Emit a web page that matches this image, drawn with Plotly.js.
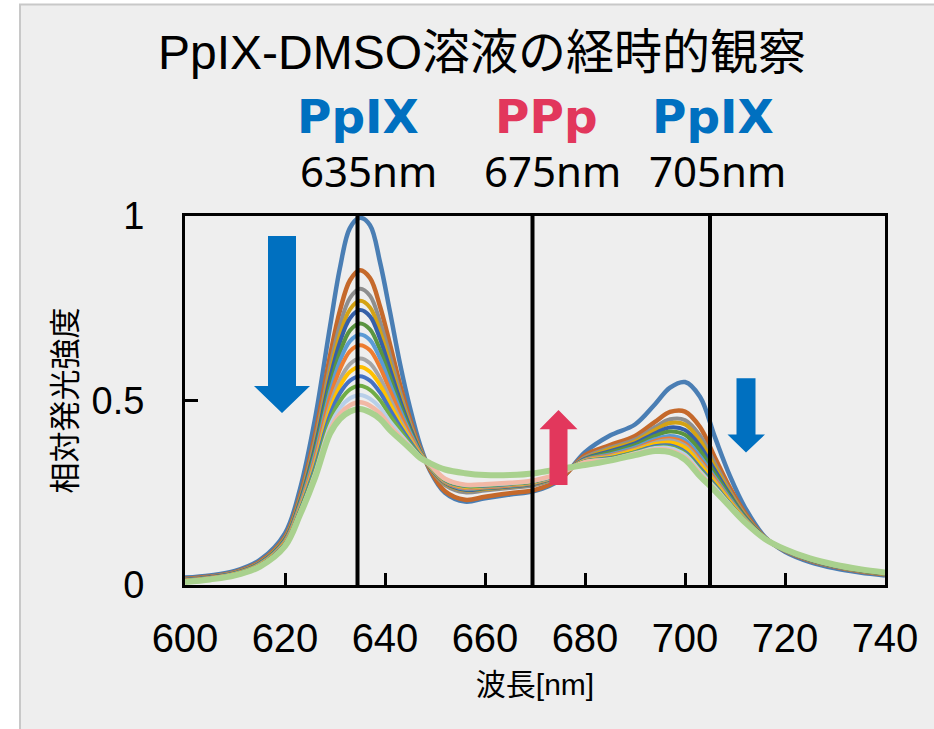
<!DOCTYPE html>
<html>
<head>
<meta charset="utf-8">
<script src="https://cdn.plot.ly/plotly-3.0.1.min.js"></script>
<style>html,body{margin:0;padding:0;background:#fff;}#chart{width:934px;height:729px;}</style>
</head>
<body>
<div id="chart"></div>
<script>
// wavelength (nm)
const wavelength = [600,605,610,615,620,623,626,629,631,633,635,637,639,641,643,645,647,649,652,656,660,665,670,675,680,685,690,694,697,700,703,706,709,712,716,720,725,730,735,740];

// relative emission intensity, series in time order
const s01 = [0.020,0.026,0.038,0.068,0.140,0.260,0.450,0.700,0.860,0.968,0.995,0.975,0.875,0.740,0.600,0.480,0.380,0.310,0.250,0.226,0.235,0.245,0.255,0.285,0.360,0.405,0.435,0.490,0.535,0.550,0.510,0.400,0.295,0.210,0.130,0.090,0.062,0.045,0.034,0.026];
const s02 = [0.017,0.023,0.035,0.063,0.130,0.241,0.406,0.621,0.744,0.826,0.853,0.832,0.755,0.652,0.544,0.450,0.370,0.313,0.254,0.231,0.239,0.249,0.258,0.287,0.352,0.379,0.404,0.442,0.469,0.470,0.428,0.345,0.263,0.195,0.128,0.093,0.066,0.049,0.037,0.029];
const s03 = [0.016,0.022,0.034,0.061,0.127,0.234,0.391,0.592,0.705,0.778,0.803,0.784,0.714,0.621,0.524,0.439,0.367,0.317,0.271,0.251,0.256,0.263,0.271,0.295,0.346,0.372,0.394,0.428,0.449,0.447,0.405,0.329,0.254,0.190,0.128,0.093,0.067,0.050,0.038,0.030];
const s04 = [0.015,0.021,0.033,0.060,0.125,0.230,0.381,0.574,0.679,0.747,0.770,0.752,0.688,0.601,0.511,0.432,0.365,0.318,0.275,0.257,0.260,0.266,0.274,0.297,0.343,0.368,0.389,0.420,0.439,0.435,0.392,0.320,0.249,0.188,0.127,0.094,0.068,0.051,0.039,0.030];
const s05 = [0.014,0.021,0.032,0.059,0.123,0.226,0.373,0.560,0.659,0.723,0.745,0.728,0.667,0.585,0.501,0.427,0.363,0.319,0.277,0.258,0.262,0.267,0.275,0.298,0.342,0.363,0.384,0.411,0.427,0.420,0.377,0.310,0.244,0.185,0.127,0.094,0.068,0.051,0.040,0.031];
const s06 = [0.013,0.020,0.031,0.058,0.121,0.221,0.362,0.540,0.631,0.690,0.709,0.693,0.638,0.563,0.487,0.419,0.361,0.320,0.278,0.260,0.263,0.268,0.276,0.298,0.340,0.359,0.379,0.404,0.416,0.407,0.364,0.301,0.239,0.183,0.127,0.095,0.069,0.052,0.040,0.031];
const s07 = [0.013,0.019,0.031,0.057,0.119,0.217,0.352,0.523,0.608,0.661,0.679,0.664,0.614,0.545,0.475,0.413,0.359,0.321,0.279,0.261,0.264,0.269,0.277,0.299,0.339,0.354,0.373,0.395,0.404,0.393,0.349,0.291,0.233,0.180,0.126,0.095,0.070,0.053,0.041,0.032];
const s08 = [0.012,0.019,0.030,0.056,0.117,0.213,0.343,0.507,0.585,0.634,0.650,0.636,0.590,0.527,0.464,0.407,0.357,0.322,0.280,0.263,0.265,0.270,0.278,0.299,0.338,0.351,0.369,0.390,0.397,0.384,0.340,0.286,0.229,0.178,0.126,0.096,0.070,0.053,0.041,0.032];
const s09 = [0.011,0.018,0.029,0.055,0.114,0.209,0.332,0.487,0.557,0.599,0.614,0.601,0.561,0.505,0.449,0.399,0.354,0.322,0.282,0.265,0.267,0.272,0.279,0.300,0.337,0.349,0.367,0.386,0.392,0.378,0.334,0.281,0.227,0.177,0.126,0.096,0.070,0.053,0.041,0.033];
const s10 = [0.011,0.017,0.029,0.054,0.113,0.205,0.325,0.474,0.539,0.578,0.591,0.578,0.542,0.490,0.440,0.394,0.353,0.323,0.283,0.266,0.268,0.273,0.280,0.301,0.336,0.347,0.365,0.382,0.386,0.372,0.327,0.277,0.225,0.176,0.126,0.096,0.071,0.054,0.042,0.033];
const s11 = [0.010,0.017,0.028,0.053,0.111,0.202,0.318,0.460,0.520,0.554,0.566,0.554,0.522,0.475,0.430,0.389,0.351,0.324,0.284,0.268,0.269,0.274,0.281,0.301,0.335,0.344,0.360,0.376,0.378,0.361,0.317,0.270,0.220,0.174,0.126,0.096,0.071,0.054,0.042,0.033];
const s12 = [0.010,0.016,0.028,0.052,0.109,0.199,0.310,0.445,0.499,0.530,0.540,0.529,0.501,0.459,0.420,0.383,0.349,0.324,0.285,0.269,0.270,0.275,0.282,0.302,0.334,0.342,0.359,0.373,0.374,0.357,0.312,0.267,0.219,0.173,0.125,0.096,0.071,0.054,0.042,0.033];
const s13 = [0.009,0.016,0.027,0.051,0.108,0.195,0.302,0.431,0.480,0.506,0.515,0.505,0.481,0.443,0.410,0.378,0.348,0.325,0.287,0.271,0.272,0.276,0.283,0.302,0.333,0.341,0.357,0.371,0.371,0.353,0.308,0.264,0.217,0.172,0.125,0.097,0.071,0.054,0.042,0.034];
const s14 = [0.008,0.015,0.026,0.051,0.106,0.193,0.296,0.420,0.464,0.487,0.495,0.486,0.465,0.431,0.402,0.374,0.346,0.326,0.288,0.272,0.273,0.277,0.284,0.303,0.333,0.339,0.355,0.367,0.365,0.346,0.302,0.259,0.215,0.171,0.125,0.097,0.072,0.055,0.043,0.034];
const s15 = [0.008,0.015,0.026,0.050,0.105,0.190,0.290,0.410,0.450,0.470,0.477,0.468,0.450,0.420,0.395,0.370,0.345,0.330,0.313,0.303,0.298,0.298,0.303,0.315,0.325,0.337,0.352,0.363,0.360,0.340,0.295,0.255,0.212,0.170,0.125,0.097,0.072,0.055,0.043,0.034];

const seriesNames = ['1','2','3','4','5','6','7','8','9','10','11','12','13','14','15'];
const seriesValues = [s01,s02,s03,s04,s05,s06,s07,s08,s09,s10,s11,s12,s13,s14,s15];
const seriesColors = ['#4a7eb4','#c5692b','#8e8e8e','#d4a214','#3660a8','#5a9440','#5b9bd5','#ed7d31','#a5a5a5','#ffc000','#4472c4','#70ad47','#b8cfe9','#f2b8a5','#a9d18e'];
const seriesWidths = [4.5,4.5,4,4,4,4,4,4,4,4,4,4,4,4.5,6];

// tick labels
const xTicks = [600,620,640,660,680,700,720,740];
const xTickText = ['600','620','640','660','680','700','720','740'];
const yTicks = [0,0.5,1];
const yTickText = ['0','0.5','1'];

// marker wavelengths and labels
const markerLines = [634.5,669.5,705];
const bandNames = ['PpIX','PPp','PpIX'];
const bandWaves = ['635nm','675nm','705nm'];
const bandColors = ['#0070c0','#e2375c','#0070c0'];

const latin = 'Liberation Sans, Arial, Noto Sans CJK JP, sans-serif';
const wide = 'Noto Sans, Liberation Sans, Noto Sans CJK JP, sans-serif';

const traces = seriesValues.map((ys,i)=>({
  x: wavelength, y: ys, type:'scatter', mode:'lines', name: seriesNames[i],
  line:{color: seriesColors[i], width: seriesWidths[i], shape:'spline', smoothing:1},
  hoverinfo:'skip', showlegend:false
}));

// pixel helpers for layout placement (plot area 185..885 x, 216..585 y)
const PL=185, PR=885, PT=216, PB=585;
const px = v => (v-PL)/(PR-PL);
const py = v => (PB-v)/(PB-PT);

const shapes = [
  {type:'rect', xref:'paper', yref:'paper', x0:px(20), x1:px(960), y0:py(760), y1:py(4.5),
   fillcolor:'#eeeeee', line:{color:'#c8c8c8', width:2}, layer:'below'}
];
markerLines.forEach(w=>shapes.push({type:'line', xref:'x', yref:'y', x0:w, x1:w, y0:0, y1:1, line:{color:'#000', width:4}}));
// arrows
shapes.push({type:'path', xref:'x', yref:'y', path:'M616.6,0.946 L622.2,0.946 L622.2,0.539 L625,0.539 L619.4,0.466 L613.8,0.539 L616.6,0.539 Z', fillcolor:'#0070c0', line:{width:0}});
shapes.push({type:'path', xref:'x', yref:'y', path:'M672.9,0.271 L676.5,0.271 L676.5,0.422 L678.5,0.422 L674.7,0.474 L670.9,0.422 L672.9,0.422 Z', fillcolor:'#e2375c', line:{width:0}});
shapes.push({type:'path', xref:'x', yref:'y', path:'M710.3,0.560 L714.1,0.560 L714.1,0.408 L716,0.408 L712.2,0.359 L708.5,0.408 L710.3,0.408 Z', fillcolor:'#0070c0', line:{width:0}});

const nameX = [358,546,713];
const waveX = [368,552,717];
const annotations = [];
bandNames.forEach((t,i)=>annotations.push({xref:'paper', yref:'paper', x:px(nameX[i]), y:py(116), xanchor:'center', yanchor:'middle', showarrow:false,
  text:'<b>'+t+'</b>', font:{family:'DejaVu Sans, Noto Sans CJK JP, sans-serif', size:47, color:bandColors[i]}}));
bandWaves.forEach((t,i)=>annotations.push({xref:'paper', yref:'paper', x:px(waveX[i]), y:py(171), xanchor:'center', yanchor:'middle', showarrow:false,
  text:t, font:{family:wide, size:42, color:'#000'}}));

const layout = {
  width:934, height:729,
  paper_bgcolor:'#ffffff', plot_bgcolor:'#eeeeee',
  margin:{l:PL, r:934-PR, t:PT, b:729-PB, pad:0},
  font:{family:latin, color:'#000'},
  title:{text:'PpIX-DMSO溶液の経時的観察', x:px(482), xref:'paper', xanchor:'center', y:1-52/729, yref:'container', yanchor:'middle',
    font:{family:latin, size:48, color:'#000'}},
  xaxis:{range:[600,740], tickvals:xTicks, ticktext:xTickText, ticks:'inside', ticklen:12, tickwidth:3, tickcolor:'#000',
    showline:true, linewidth:3, linecolor:'#000', mirror:true, showgrid:false, zeroline:false,
    tickfont:{family:latin, size:40, color:'#000'}, ticklabelstandoff:16,
    title:{text:'波長[nm]', font:{family:latin, size:30, color:'#000'}, standoff:15}},
  yaxis:{range:[0,1], tickvals:yTicks, ticktext:yTickText, ticks:'inside', ticklen:13, tickwidth:3, tickcolor:'#000',
    showline:true, linewidth:3, linecolor:'#000', mirror:true, showgrid:false, zeroline:false,
    tickfont:{family:latin, size:38, color:'#000'}, ticklabelstandoff:30,
    title:{text:'相対発光強度', font:{family:latin, size:31, color:'#000'}, standoff:6}},
  shapes:shapes, annotations:annotations, showlegend:false
};

Plotly.newPlot('chart', traces, layout, {staticPlot:true, displayModeBar:false});
</script>
</body>
</html>
